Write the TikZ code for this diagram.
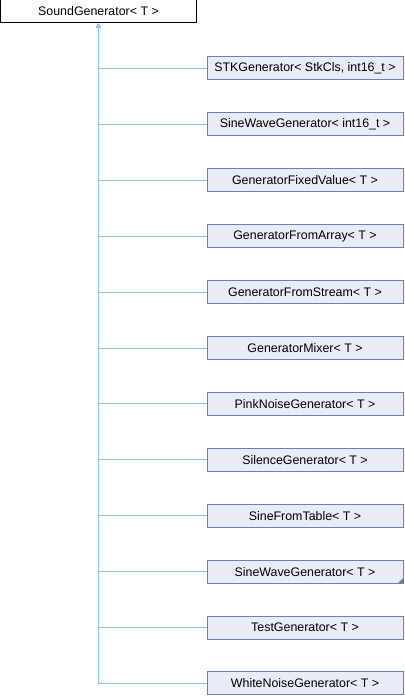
\documentclass[tikz,border=0pt]{standalone}
\usepackage{fontspec}
\setmainfont{Liberation Sans}
\usetikzlibrary{arrows.meta}
\definecolor{boxfill}{HTML}{E8ECF6}
\definecolor{boxline}{HTML}{6A80BE}
\definecolor{edgeblue}{HTML}{8AC4EA}
\begin{document}
\begin{tikzpicture}[x=1bp,y=-1bp,
  base/.style={draw=black,fill=white,line width=1bp,minimum width=196bp,minimum height=23bp,inner sep=0pt,font=\fontsize{12.4bp}{14bp}\selectfont},
  child/.style={draw=boxline,fill=boxfill,line width=1bp,minimum width=196bp,minimum height=23bp,inner sep=0pt,font=\fontsize{12.4bp}{14bp}\selectfont},
  edge/.style={draw=edgeblue,line width=1bp,-{Triangle[open,length=4bp,width=5bp,fill=edgeblue]}}]
\useasboundingbox (0,0) rectangle (404,696);
\node[base] (top) at (98.5,11.5) {SoundGenerator< T >};
\foreach \i/\name/\lab in {0/c0/{STKGenerator< StkCls, int16\_t >},
  1/c1/{SineWaveGenerator< int16\_t >},
  2/c2/{GeneratorFixedValue< T >},
  3/c3/{GeneratorFromArray< T >},
  4/c4/{GeneratorFromStream< T >},
  5/c5/{GeneratorMixer< T >},
  6/c6/{PinkNoiseGenerator< T >},
  7/c7/{SilenceGenerator< T >},
  8/c8/{SineFromTable< T >},
  9/c9/{SineWaveGenerator< T >},
  10/c10/{TestGenerator< T >},
  11/c11/{WhiteNoiseGenerator< T >}}{
  \node[child] (\name) at (305,68.5+55.9*\i) {\lab};
  \draw[edge] (\name.west) -| (top.south);
}
\fill[boxline] (c9.south east) -- ++(0,-6) -- ++(-6,6) -- cycle;
\end{tikzpicture}
\end{document}
